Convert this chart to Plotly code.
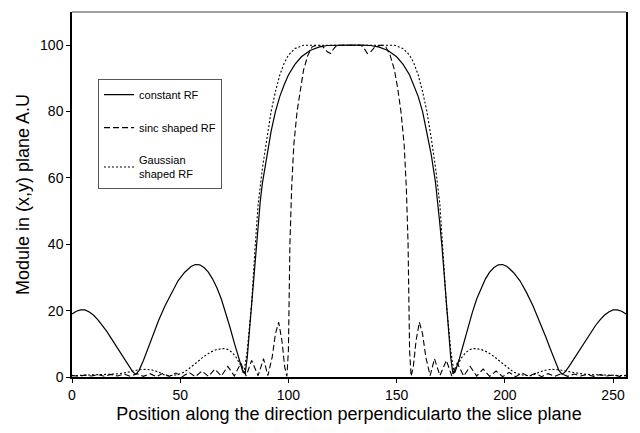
import plotly.graph_objects as go

# constant RF (solid)
const_x = [0, 2, 4, 6, 8, 10, 12, 14, 16, 18, 20, 22, 24, 26, 28, 29.5, 31, 33, 35, 37, 40, 43, 46, 49, 52, 55, 57, 59, 61, 63, 65, 67, 69, 71, 73, 75, 77, 79, 80, 81, 82, 83, 84, 85, 86, 87, 88, 90, 92, 94, 96, 98, 100, 103, 106, 110, 114, 118, 122, 128,
           134, 138, 142, 146, 150, 153, 156, 158, 160, 162, 164, 166, 168, 169, 170, 171, 172, 173, 174, 175, 176, 177, 179, 181, 183, 185, 187, 189, 191, 193, 195, 197, 199, 201, 204, 207, 210, 213, 216, 219, 221, 223, 225, 226.5, 228, 230, 232, 234, 236, 238, 240, 242, 244, 246, 248, 250, 252, 254, 256]
const_y = [19, 19.8, 20.2, 20.2, 19.6, 18.6, 17.2, 15.6, 13.8, 11.8, 9.7, 7.6, 5.5, 3.5, 1.6, 0.8, 2, 5, 8.5, 12, 17, 21.5, 25.5, 29, 31.5, 33.3, 33.9, 33.8, 33, 31.6, 29.5, 26.8, 23.5, 19.5, 15, 10.3, 5.5, 1.5, 1, 6, 14, 22, 31, 39, 46, 53, 58.5, 67, 74, 80, 84.5, 88, 91, 94.2, 96.5, 98.4, 99.4, 99.9, 100, 100,
           100, 99.9, 99.4, 98.4, 96.5, 94.2, 91, 88, 84.5, 80, 74, 67, 58.5, 53, 46, 39, 31, 22, 14, 6, 1, 1.5, 5.5, 10.3, 15, 19.5, 23.5, 26.8, 29.5, 31.6, 33, 33.8, 33.9, 33.3, 31.5, 29, 25.5, 21.5, 17, 12, 8.5, 5, 2, 0.8, 1.6, 3.5, 5.5, 7.6, 9.7, 11.8, 13.8, 15.6, 17.2, 18.6, 19.6, 20.2, 20.2, 19.8, 19]

# sinc shaped RF (dashed)
sinc_x = [0, 3, 6, 9, 12, 15, 18, 21, 24, 27, 30, 33, 36, 39, 42, 45, 48, 51, 54, 57, 60, 63, 66, 69, 72, 75, 78, 80.5, 83, 86, 88.5, 90.5, 92.5, 94, 95.5, 97, 98.3, 99.3, 100, 100.7, 101.5, 102.5, 104, 105.5, 107, 109, 111, 113, 116, 118, 119.5, 121, 122.5, 128,
          133.5, 135, 136.5, 138, 140, 143, 145, 147, 149, 150.5, 152, 153.5, 154.5, 155.3, 156, 156.7, 157.7, 159, 160.5, 162, 163.5, 165.5, 167.5, 170, 173, 175.5, 178, 181, 184, 187, 190, 193, 196, 199, 202, 205, 208, 211, 214, 217, 220, 223, 226, 229, 232, 235, 238, 241, 244, 247, 250, 253, 256]
sinc_y = [0.5, 0.2, 0.6, 0.3, 0.7, 0.2, 0.8, 0.3, 0.9, 0.2, 1.0, 0.2, 1.0, 0.1, 1.1, 0.2, 1.2, 0.1, 1.4, 0.1, 1.8, 0.2, 2.4, 0.3, 3.2, 0.3, 4.2, 0.3, 5, 0.4, 5.5, 0.4, 6, 13, 16.5, 11, 3, 0.2, 8, 40, 57, 70, 80, 87, 92.5, 97, 99.5, 100, 99.5, 98, 97.5, 99, 100, 100,
          100, 99, 97.5, 98, 99.5, 100, 99.5, 97, 92.5, 87, 80, 70, 57, 40, 8, 0.2, 3, 11, 16.5, 13, 6, 0.4, 5.5, 0.4, 5, 0.3, 4.2, 0.3, 3.2, 0.3, 2.4, 0.2, 1.8, 0.1, 1.4, 0.1, 1.2, 0.2, 1.1, 0.1, 1.0, 0.2, 1.0, 0.2, 0.9, 0.3, 0.8, 0.2, 0.7, 0.3, 0.6, 0.2, 0.5]

# Gaussian shaped RF (dotted)
gauss_x = [0, 5, 10, 15, 20, 24, 27, 29, 31, 34, 37, 40, 42, 44, 47, 50, 52, 55, 58, 61, 64, 67, 70, 72, 74, 76, 78, 79.5, 81, 83, 84.5, 86, 88, 90, 92, 94, 96, 98, 100, 103, 107, 128,
           149, 153, 156, 158, 160, 162, 164, 166, 168, 170, 171.5, 173, 175, 176.5, 178, 180, 182, 184, 186, 189, 192, 195, 198, 201, 204, 206, 209, 212, 214, 216, 219, 222, 225, 227, 229, 232, 236, 241, 246, 251, 256]
gauss_y = [0.4, 0.5, 0.6, 0.7, 0.9, 1.2, 1.7, 1.9, 2.2, 2.3, 2.1, 1.5, 0.8, 0.4, 0.5, 1, 1.5, 3, 4.6, 6.2, 7.5, 8.3, 8.6, 8.3, 7.4, 5.8, 3.5, 1.5, 8, 22, 38, 52, 63, 72, 80, 86, 91, 94.5, 97, 99, 100, 100,
           100, 99, 97, 94.5, 91, 86, 80, 72, 63, 52, 38, 22, 8, 1.5, 3.5, 5.8, 7.4, 8.3, 8.6, 8.3, 7.5, 6.2, 4.6, 3, 1.5, 1, 0.5, 0.4, 0.8, 1.5, 2.1, 2.3, 2.2, 1.9, 1.7, 1.2, 0.9, 0.7, 0.6, 0.5, 0.4]

x_ticks = [0, 50, 100, 150, 200, 250]
y_ticks = [0, 20, 40, 60, 80, 100]

FONT = "Liberation Sans, Arial, sans-serif"

fig = go.Figure()
fig.add_trace(go.Scatter(x=const_x, y=const_y, mode="lines", name="constant RF", legendgroup="a",
                         line=dict(color="black", width=1.2)))
fig.add_trace(go.Scatter(x=sinc_x, y=sinc_y, mode="lines", name="sinc shaped RF", legendgroup="b",
                         line=dict(color="black", width=1.1, dash="6px,3px")))
fig.add_trace(go.Scatter(x=gauss_x, y=gauss_y, mode="lines", name="Gaussian<br>shaped RF", legendgroup="c",
                         line=dict(color="black", width=1.1, dash="2px,2px")))

fig.update_layout(
    width=640, height=433,
    margin=dict(l=72, r=13, t=12, b=52),
    plot_bgcolor="white", paper_bgcolor="white",
    font=dict(family=FONT, color="black", size=14),
    showlegend=True,
    legend=dict(x=0.047, y=0.816, xanchor="left", yanchor="top",
                bordercolor="#555555", borderwidth=1, bgcolor="white",
                font=dict(size=11, family=FONT), tracegroupgap=14,
                itemwidth=30),
    xaxis=dict(range=[0, 256], tickvals=x_ticks, ticks="outside", ticklen=4, tickcolor="black",
               showline=True, linecolor="black", linewidth=1.5, showgrid=False, zeroline=False,
               title=dict(text="Position along the direction perpendicularto the slice plane",
                          font=dict(size=18), standoff=6)),
    yaxis=dict(range=[0, 110], tickvals=y_ticks, ticks="outside", ticklen=4, tickcolor="black",
               showline=True, linecolor="black", linewidth=1.5, mirror=True, showgrid=False, zeroline=False,
               title=dict(text="Module in (x,y) plane A.U", font=dict(size=18), standoff=6)),
    shapes=[dict(type="line", xref="paper", yref="paper", x0=0, x1=1, y0=1, y1=1,
                 line=dict(color="#808080", width=1.5))],
)

fig.write_html("out.html")
